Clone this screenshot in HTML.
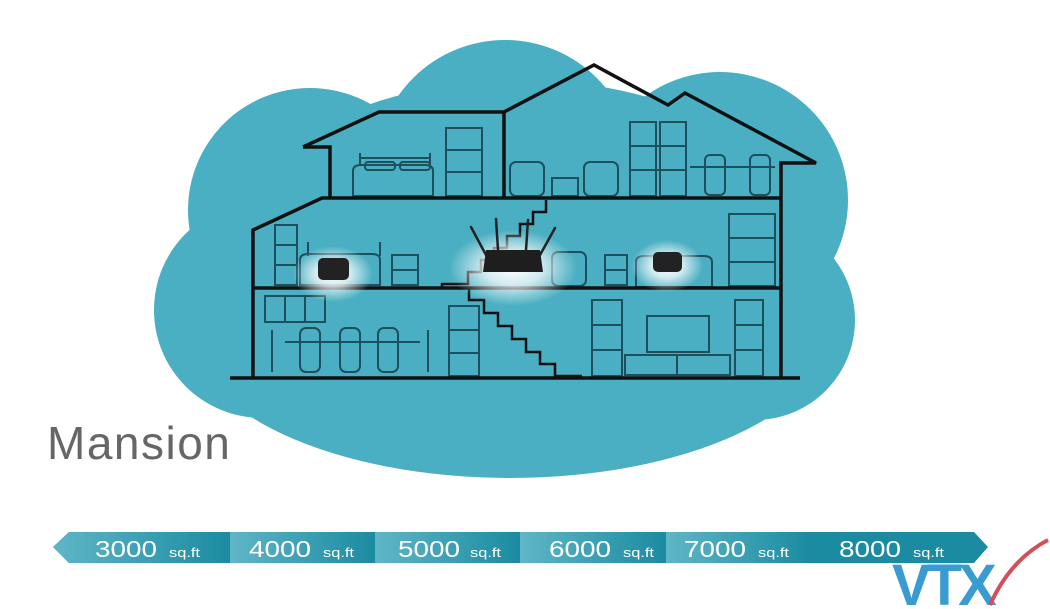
<!DOCTYPE html>
<html><head><meta charset="utf-8"><style>
body{margin:0;width:1050px;height:609px;background:#fff;overflow:hidden;font-family:"Liberation Sans",sans-serif}
svg{position:absolute;left:0;top:0}
</style></head><body>
<svg width="1050" height="609" viewBox="0 0 1050 609">
<defs>
<radialGradient id="glow"><stop offset="0" stop-color="#fff" stop-opacity="1"/><stop offset="0.45" stop-color="#fff" stop-opacity="0.75"/><stop offset="1" stop-color="#fff" stop-opacity="0"/></radialGradient>
<linearGradient id="seg" x1="0" x2="1"><stop offset="0" stop-color="#5fb6c6"/><stop offset="1" stop-color="#1b8ba1"/></linearGradient>
</defs>
<g fill="#4aafc2">
<circle cx="310" cy="210" r="122"/>
<circle cx="505" cy="170" r="130"/>
<circle cx="720" cy="200" r="128"/>
<circle cx="262" cy="310" r="108"/>
<ellipse cx="510" cy="330" rx="320" ry="148"/>
<circle cx="755" cy="320" r="100"/>
<ellipse cx="520" cy="260" rx="300" ry="180"/>
</g>
<!-- furniture -->
<g fill="none" stroke="#1d4f5c" stroke-width="2">
<rect x="446" y="128" width="36" height="68"/><line x1="446" y1="150" x2="482" y2="150"/><line x1="446" y1="172" x2="482" y2="172"/>
<path d="M353 196 v-25 q0-6 8-6 h64 q8 0 8 6 v25 z"/><path d="M360 165 v-12 M430 165 v-12 M360 158 h70"/><rect x="365" y="162" width="30" height="8" rx="3"/><rect x="400" y="162" width="30" height="8" rx="3"/>
<rect x="630" y="122" width="26" height="74"/><rect x="660" y="122" width="26" height="74"/><line x1="630" y1="146" x2="686" y2="146"/><line x1="630" y1="170" x2="686" y2="170"/>
<rect x="510" y="162" width="34" height="34" rx="6"/><rect x="584" y="162" width="34" height="34" rx="6"/><rect x="552" y="178" width="26" height="18"/>
<line x1="690" y1="167" x2="775" y2="167"/><rect x="705" y="155" width="20" height="40" rx="5"/><rect x="750" y="155" width="20" height="40" rx="5"/>
<rect x="275" y="225" width="22" height="60"/><line x1="275" y1="245" x2="297" y2="245"/><line x1="275" y1="265" x2="297" y2="265"/>
<path d="M300 285 v-25 q0-6 8-6 h64 q8 0 8 6 v25 z"/><line x1="308" y1="242" x2="308" y2="256"/><line x1="380" y1="242" x2="380" y2="256"/>
<rect x="392" y="255" width="26" height="30"/><line x1="392" y1="270" x2="418" y2="270"/>
<rect x="552" y="252" width="34" height="34" rx="6"/>
<rect x="605" y="255" width="22" height="30"/><line x1="605" y1="270" x2="627" y2="270"/>
<path d="M636 287 v-25 q0-6 8-6 h60 q8 0 8 6 v25 z"/>
<rect x="729" y="214" width="46" height="72"/><line x1="729" y1="238" x2="775" y2="238"/><line x1="729" y1="262" x2="775" y2="262"/>
<rect x="265" y="296" width="60" height="26"/><line x1="285" y1="296" x2="285" y2="322"/><line x1="305" y1="296" x2="305" y2="322"/>
<line x1="285" y1="342" x2="420" y2="342"/>
<rect x="300" y="328" width="20" height="44" rx="6"/><rect x="340" y="328" width="20" height="44" rx="6"/><rect x="378" y="328" width="20" height="44" rx="6"/><path d="M272 330 v42 M428 330 v42"/>
<rect x="449" y="306" width="30" height="70"/><line x1="449" y1="330" x2="479" y2="330"/><line x1="449" y1="353" x2="479" y2="353"/>
<rect x="592" y="300" width="30" height="76"/><line x1="592" y1="325" x2="622" y2="325"/><line x1="592" y1="350" x2="622" y2="350"/>
<rect x="735" y="300" width="28" height="76"/><line x1="735" y1="325" x2="763" y2="325"/><line x1="735" y1="350" x2="763" y2="350"/>
<rect x="647" y="316" width="62" height="36"/><rect x="625" y="355" width="105" height="20"/><line x1="677" y1="355" x2="677" y2="375"/>
</g>
<!-- house outline -->
<g fill="none" stroke="#111" stroke-width="3.5" stroke-linejoin="miter">
<polyline points="303,147 330,147 330,197"/>
<polyline points="303,147 379,112 504,112 594,65 668,105 685,93 816,163 781,163 781,378"/>
<line x1="504" y1="112" x2="504" y2="197"/>
<polyline points="781,198 322,198 253,230 253,378"/>
<line x1="253" y1="288" x2="781" y2="288"/>
<line x1="230" y1="378" x2="800" y2="378"/>
<polyline stroke-width="2.5" points="546,200 546,212 533,212 533,224 520,224 520,236 507,236 507,248 494,248 494,260 481,260 481,272 468,272 468,284 442,284 442,288"/>
<polyline stroke-width="2.5" points="469,288 469,300 484,300 484,313 498,313 498,326 512,326 512,339 526,339 526,352 540,352 540,364 555,364 555,376 582,376"/>
</g>
<!-- glows -->
<ellipse cx="333" cy="274" rx="40" ry="28" fill="url(#glow)"/>
<ellipse cx="667" cy="266" rx="36" ry="26" fill="url(#glow)"/>
<ellipse cx="513" cy="268" rx="64" ry="38" fill="url(#glow)"/>
<!-- devices -->
<rect x="318" y="258" width="31" height="22" rx="5" fill="#222"/>
<rect x="653" y="252" width="29" height="20" rx="5" fill="#222"/>
<g stroke="#222" stroke-width="2.5" stroke-linecap="round"><line x1="471" y1="227" x2="486" y2="255"/><line x1="496" y1="219" x2="498" y2="250"/><line x1="528" y1="220" x2="526" y2="250"/><line x1="555" y1="228" x2="540" y2="255"/></g>
<path d="M486 250 h54 l3 22 h-60 z" fill="#1e1e1e"/>
<text x="47" y="459" font-size="46" fill="#666" letter-spacing="1.5">Mansion</text>
<!-- bar -->
<path d="M69 532 H974 L988 547 L974 563 H69 L53 547 Z" fill="#1b8ba1"/>
<g fill="url(#seg)">
<path d="M69 532 H230 V563 H69 L53 547Z"/>
<rect x="230" y="532" width="145" height="31"/>
<rect x="375" y="532" width="145" height="31"/>
<rect x="520" y="532" width="146" height="31"/>
<rect x="666" y="532" width="144" height="31"/>
</g>
<g fill="#fff">
<g font-size="23">
<text x="95" y="557" textLength="62" lengthAdjust="spacingAndGlyphs">3000</text>
<text x="249" y="557" textLength="62" lengthAdjust="spacingAndGlyphs">4000</text>
<text x="398" y="557" textLength="62" lengthAdjust="spacingAndGlyphs">5000</text>
<text x="549" y="557" textLength="62" lengthAdjust="spacingAndGlyphs">6000</text>
<text x="684" y="557" textLength="62" lengthAdjust="spacingAndGlyphs">7000</text>
<text x="839" y="557" textLength="62" lengthAdjust="spacingAndGlyphs">8000</text>
</g>
<g font-size="13">
<text x="169" y="557" textLength="31" lengthAdjust="spacingAndGlyphs">sq.ft</text>
<text x="323" y="557" textLength="31" lengthAdjust="spacingAndGlyphs">sq.ft</text>
<text x="470" y="557" textLength="31" lengthAdjust="spacingAndGlyphs">sq.ft</text>
<text x="623" y="557" textLength="31" lengthAdjust="spacingAndGlyphs">sq.ft</text>
<text x="758" y="557" textLength="31" lengthAdjust="spacingAndGlyphs">sq.ft</text>
<text x="913" y="557" textLength="31" lengthAdjust="spacingAndGlyphs">sq.ft</text>
</g>
</g>
<!-- logo -->
<text x="892" y="605" font-size="58" font-weight="bold" fill="#3a9bd0" letter-spacing="-4">VTX</text>
<path d="M990 605 Q1010 560 1048 540" stroke="#d2505a" stroke-width="4" fill="none"/>
</svg>
</body></html>
